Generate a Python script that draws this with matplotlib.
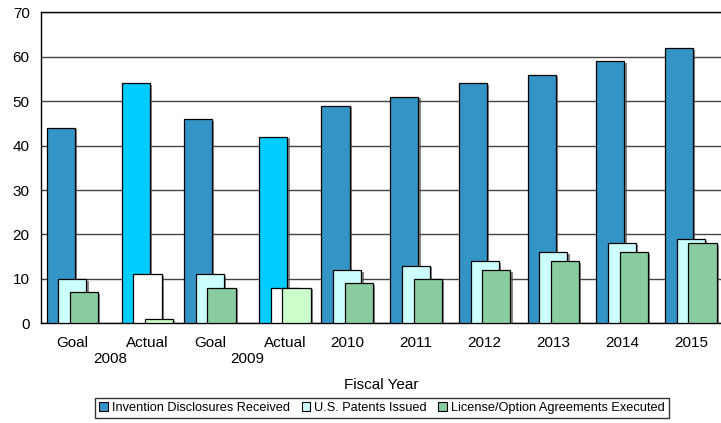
import matplotlib
matplotlib.use("Agg")
import matplotlib.pyplot as plt
import matplotlib.patheffects as pe
from matplotlib.patches import Patch
import numpy as np

plt.rcParams['font.family'] = ['Liberation Sans', 'DejaVu Sans']

# Category labels along the x axis
categories = ["Goal", "Actual", "Goal", "Actual", "2010", "2011", "2012", "2013", "2014", "2015"]
is_actual = [False, True, False, True, False, False, False, False, False, False]
year_groups = [("2008", 0, 1), ("2009", 2, 3)]

# Series values
disclosures = [44, 54, 46, 42, 49, 51, 54, 56, 59, 62]
patents = [10, 11, 11, 8, 12, 13, 14, 16, 18, 19]
licenses = [7, 1, 8, 8, 9, 10, 12, 14, 16, 18]

series_names = ["Invention Disclosures Received", "U.S. Patents Issued",
                "License/Option Agreements Executed"]
goal_colors = ["#3494C6", "#CCFFFF", "#88CCA0"]
actual_colors = ["#00CCFF", "#FFFFFF", "#CCFFCC"]

fig = plt.figure(figsize=(7.21, 4.23), dpi=100)
ax = fig.add_axes([0.0565, 0.2357, 0.9435, 0.7352])

bar_w = 0.41
step = 0.17
actual_shift = 0.093

idx = np.arange(len(categories))
centers = idx + np.where(is_actual, actual_shift, 0.0)

shadow = [pe.SimplePatchShadow(offset=(1.6, -1.2), shadow_rgbFace="#555555", alpha=0.7),
          pe.Normal()]

for s, vals in enumerate([disclosures, patents, licenses]):
    colors = [actual_colors[s] if a else goal_colors[s] for a in is_actual]
    bars = ax.bar(centers + (s - 1) * step, vals, width=bar_w, color=colors,
                  edgecolor="black", linewidth=0.9, zorder=3 + s)
    for b in bars:
        b.set_path_effects(shadow)

ax.set_ylim(0, 70)
ax.set_xlim(-0.46, 9.44)
ax.set_yticks(np.arange(0, 71, 10))
ax.yaxis.grid(True, color="#444444", linewidth=1.0, zorder=0)
ax.set_axisbelow(True)

ax.set_xticks(centers)
ax.set_xticklabels(categories)
ax.tick_params(axis="both", length=0, labelsize=11)
ax.tick_params(axis="x", pad=9)
ax.tick_params(axis="y", pad=8)

for sp in ["left", "bottom", "top"]:
    ax.spines[sp].set_color("black")
    ax.spines[sp].set_linewidth(1.0)
ax.spines["right"].set_visible(False)

for year, i0, i1 in year_groups:
    xm = (centers[i0] + centers[i1]) / 2
    ax.annotate(year, xy=(xm, 0), xycoords=("data", "axes fraction"),
                xytext=(0, -26), textcoords="offset points",
                ha="center", va="center", fontsize=11)

ax.set_xlabel("Fiscal Year", fontsize=11, labelpad=20)

handles = [Patch(facecolor=c, edgecolor="black", linewidth=0.8) for c in goal_colors]
leg = fig.legend(handles, series_names, loc="center", bbox_to_anchor=(0.53, 0.0355),
                 ncol=3, fontsize=9.2, frameon=True, fancybox=False,
                 handlelength=0.7, handleheight=0.7, handletextpad=0.3,
                 columnspacing=0.9, borderpad=0.3)
leg.get_frame().set_edgecolor("black")
leg.get_frame().set_linewidth(1.0)

fig.savefig("out.png", dpi=100)
